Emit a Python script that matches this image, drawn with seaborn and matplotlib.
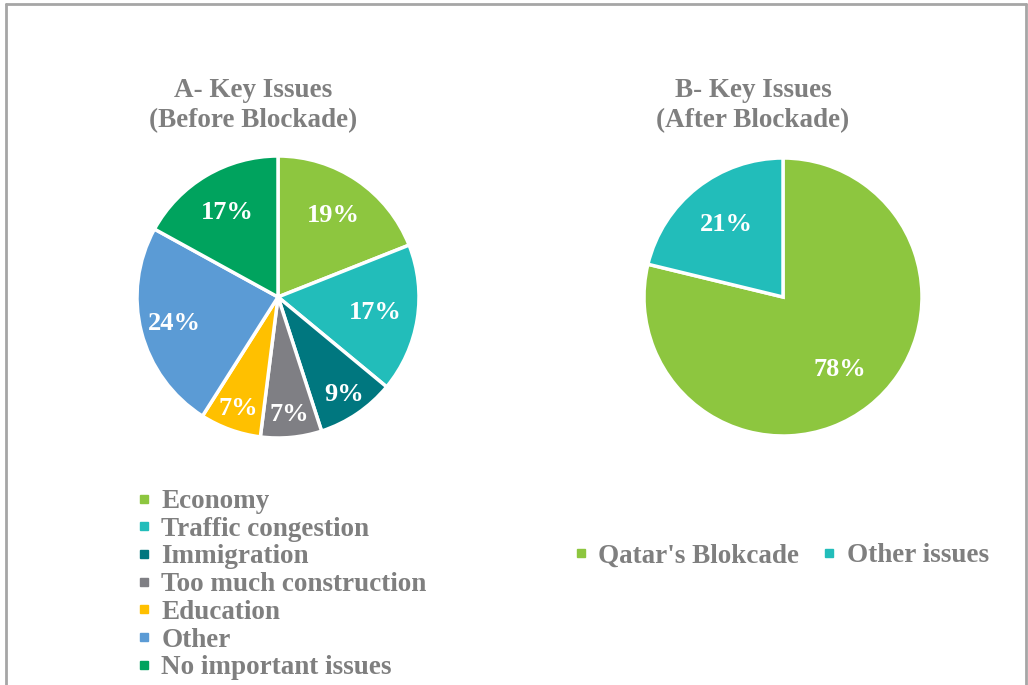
import matplotlib
matplotlib.use("Agg")
import matplotlib.pyplot as plt
import seaborn as sns
import numpy as np
from matplotlib.lines import Line2D

sns.set_theme(style="white")
plt.rcParams['font.family'] = ['Liberation Serif', 'DejaVu Serif']

# ---- data ----
before_labels = ["Economy", "Traffic congestion", "Immigration", "Too much construction",
                 "Education", "Other", "No important issues"]
before_values = [19, 17, 9, 7, 7, 24, 17]
before_colors = ["#8DC63F", "#22BDBA", "#00777F", "#7F7F84", "#FFC000", "#5B9BD5", "#00A35E"]

after_labels = ["Qatar's Blokcade", "Other issues"]
after_values = [78, 21]
after_colors = ["#8DC63F", "#22BDBA"]

title_a = "A- Key Issues\n(Before Blockade)"
title_b = "B- Key Issues\n(After Blockade)"

TEXT = "#7F7F7F"
W, H = 1028, 685
fig = plt.figure(figsize=(W / 100, H / 100), dpi=100)


def px_axes(cx, cy, r):
    return fig.add_axes([(cx - r) / W, 1 - (cy + r) / H, 2 * r / W, 2 * r / H])


def draw_pie(ax, values, colors, pct_dist):
    wedges, _ = ax.pie(values, colors=colors, startangle=90, counterclock=False,
                       wedgeprops=dict(edgecolor="white", linewidth=2.5))
    total = sum(values)
    for w, v in zip(wedges, values):
        ang = np.deg2rad((w.theta1 + w.theta2) / 2)
        d = pct_dist(v / total)
        ax.text(d * np.cos(ang), d * np.sin(ang), f"{v}%", ha="center", va="center",
                color="white", fontsize=19, fontweight="bold")
    ax.set_xlim(-1, 1)
    ax.set_ylim(-1, 1)
    ax.set_aspect("equal")
    ax.axis("off")
    return wedges


ax1 = px_axes(278, 297, 141)
draw_pie(ax1, before_values, before_colors, lambda f: 0.84 if f < 0.1 else (0.76 if f > 0.2 else 0.70))
ax2 = px_axes(783, 297, 139)
draw_pie(ax2, after_values, after_colors, lambda f: 0.66)

fig.text(253 / W, 1 - 78 / H, title_a, ha="center", va="top", fontsize=19.5,
         fontweight="bold", color=TEXT, linespacing=1.27)
fig.text(753 / W, 1 - 78 / H, title_b, ha="center", va="top", fontsize=19.5,
         fontweight="bold", color=TEXT, linespacing=1.27)


def handles(labels, colors):
    return [Line2D([], [], marker="s", linestyle="none", markersize=6,
                   markerfacecolor=c, markeredgecolor=c, label=l) for l, c in zip(labels, colors)]


leg1 = fig.legend(handles=handles(before_labels, before_colors), loc="upper left",
                  bbox_to_anchor=(137 / W, 1 - 489 / H), frameon=False,
                  labelspacing=0.1, handlelength=0.5, handletextpad=0.4, borderaxespad=0,
                  borderpad=0, labelcolor=TEXT, prop=dict(weight="bold", size=19.5))
leg2 = fig.legend(handles=handles(after_labels, after_colors), loc="center left",
                  bbox_to_anchor=(574 / W, 1 - 556 / H), frameon=False, ncol=2,
                  handlelength=0.5, handletextpad=0.4, columnspacing=0.85, borderaxespad=0,
                  borderpad=0, labelcolor=TEXT, prop=dict(weight="bold", size=19.5))

# border
bc = "#A6A6A6"
fig.add_artist(Line2D([6 / W, 6 / W], [0, 1 - 4 / H], color=bc, lw=2, transform=fig.transFigure))
fig.add_artist(Line2D([6 / W, 1026 / W], [1 - 4 / H, 1 - 4 / H], color=bc, lw=2, transform=fig.transFigure))
fig.add_artist(Line2D([1026 / W, 1026 / W], [0, 1 - 4 / H], color=bc, lw=2, transform=fig.transFigure))

fig.savefig("out.png", dpi=100, facecolor="white")
